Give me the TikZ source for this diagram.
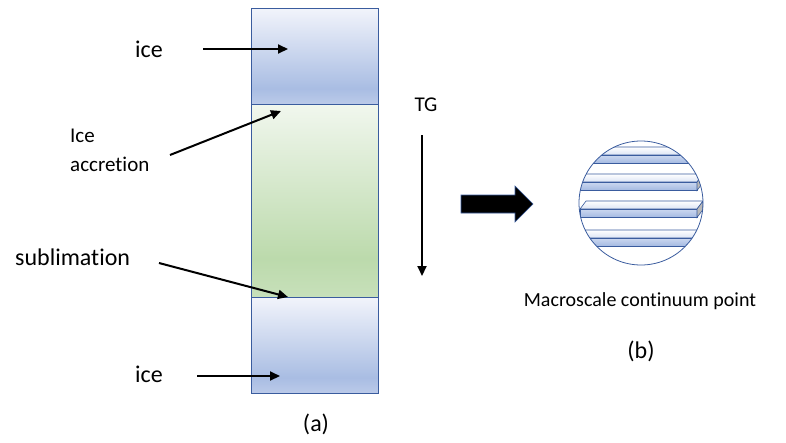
\documentclass[tikz,border=0pt]{standalone}
\usepackage{fontspec}
\setmainfont[Ligatures=NoCommon]{Carlito}
\usetikzlibrary{arrows.meta}

\definecolor{rim}{HTML}{3A5C9E}
\definecolor{iceTop}{HTML}{F2F4FB}
\definecolor{iceDark}{HTML}{A9BDE3}
\definecolor{iceLow}{HTML}{BBCAE9}
\definecolor{grTop}{HTML}{F1F7EE}
\definecolor{grDark}{HTML}{BCDAAC}
\definecolor{grLow}{HTML}{C7E0BA}
\definecolor{slabHi}{HTML}{CCD8F0}
\definecolor{slabLo}{HTML}{A3B9E1}

% shadings: bottom of the path sits at 25bp, top at 75bp
\pgfdeclareverticalshading{iceshade}{100bp}{color(0bp)=(iceLow); color(25bp)=(iceLow);
  color(33bp)=(iceDark); color(75bp)=(iceTop); color(100bp)=(iceTop)}
\pgfdeclareverticalshading{growshade}{100bp}{color(0bp)=(grLow); color(25bp)=(grLow);
  color(35bp)=(grDark); color(75bp)=(grTop); color(100bp)=(grTop)}

% one layered slab: left end, top of the front face
\newcommand{\slab}[2]{%
  \draw[slabline, top color=white, bottom color=slabHi!70]
    (#1,#2) -- (#1+6,#2-8) -- (703,#2-8) -- (697,#2) -- cycle;
  \draw[slabline, top color=slabHi, bottom color=slabLo]
    (#1,#2) rectangle (697,#2+8.5);
  \draw[slabline, fill=gray!55]
    (697,#2) -- (703,#2-8) -- (703,#2+0.5) -- (697,#2+8.5) -- cycle;
}

\begin{document}
\begin{tikzpicture}[
  x=1pt, y=-1pt,
  lbl/.style={inner sep=0pt, font=\fontsize{24}{28}\selectfont},
  small/.style={inner sep=0pt, font=\fontsize{21}{29}\selectfont},
  capt/.style={inner sep=0pt, font=\fontsize{20}{24}\selectfont},
  layer/.style={draw=rim, line width=0.8pt},
  slabline/.style={draw=rim, line width=0.6pt},
  pointer/.style={line width=2pt, -{Triangle[length=10pt,width=9pt]}}
]
\useasboundingbox (0,0) rectangle (786,442);

% ===================== LEFT: ice column =====================
\path[layer, shading=iceshade]  (251,8)   rectangle (378,104);
\path[layer, shading=growshade] (251,104) rectangle (378,297);
\path[layer, shading=iceshade]  (251,297) rectangle (378,393);
\draw[layer] (251,8) rectangle (378,393);
\draw[layer] (251,104) -- (378,104);
\draw[layer] (251,297) -- (378,297);

% Labels
\node[lbl, anchor=base west] (iceup) at (135,57) {ice};
\node[small, anchor=north west, align=left] (accr) at (70,129) {Ice\\accretion};
\node[lbl, anchor=base west] (subl) at (15,265) {sublimation};
\node[lbl, anchor=base west] (icedown) at (135,382) {ice};
\node[small] (tg) at (426,105) {TG};
\node[lbl] (capa) at (316,424) {(a)};

% Arrow ends
\coordinate (a1) at (203,49);  \coordinate (b1) at (288,49);
\coordinate (a2) at (170,155); \coordinate (b2) at (281,111);
\coordinate (a3) at (159,263); \coordinate (b3) at (288,297);
\coordinate (a4) at (197,376); \coordinate (b4) at (280,376);
\coordinate (a5) at (422,135); \coordinate (b5) at (422,276);

\draw[pointer] (a1) -- (b1);
\draw[pointer] (a2) -- (b2);
\draw[pointer] (a3) -- (b3);
\draw[pointer] (a4) -- (b4);
\draw[pointer] (a5) -- (b5);

% ===================== MIDDLE: block arrow =====================
\coordinate (fat) at (461,204);
\draw[fill=black, draw=rim, line width=0.6pt]
  (fat) ++(0,-9) -- ++(54,0) -- ++(0,-9) -- ++(18,18) -- ++(-18,18)
  -- ++(0,-9) -- ++(-54,0) -- cycle;

% ===================== RIGHT: continuum point =====================
\begin{scope}
  \clip (641,203) circle[radius=62pt];
  \slab{560}{155}
  \slab{560}{182}
  \slab{580}{209}
  \slab{560}{238}
\end{scope}
\node[circle, draw=rim, line width=0.8pt, minimum size=124pt, inner sep=0pt] (point) at (641,203) {};

\node[capt] (macro) at (640,301) {Macroscale continuum point};
\node[lbl] (capb) at (641,351) {(b)};

\end{tikzpicture}
\end{document}
